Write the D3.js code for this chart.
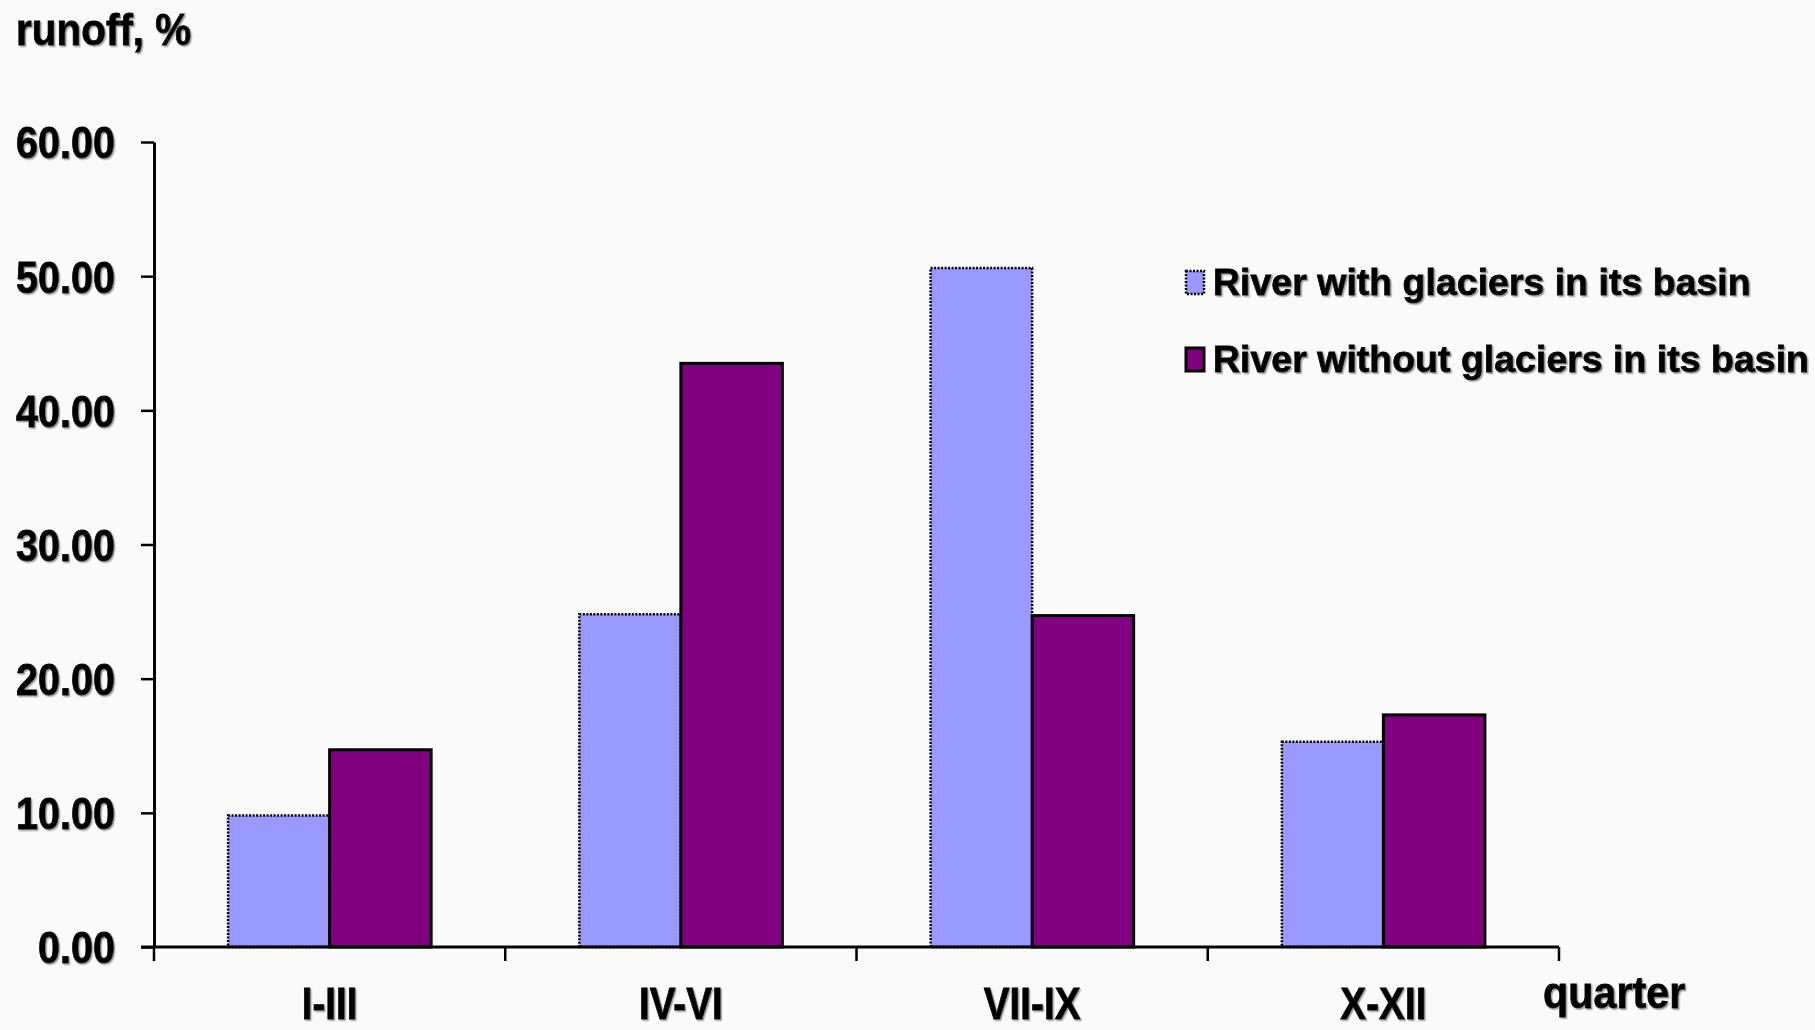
<!DOCTYPE html>
<html>
<head>
<meta charset="utf-8">
<script src="https://cdn.jsdelivr.net/npm/d3@7"></script>
<style>
  html, body { margin: 0; padding: 0; background: #fafafa; }
  svg { display: block; }
  text { font-family: "Liberation Sans", Arial, sans-serif; font-weight: bold; fill: #000; stroke: #000; stroke-width: 0.8px; }
</style>
</head>
<body>
<svg id="chart" width="1815" height="1030"></svg>
<script>
// Quarterly share of annual runoff, %
const quarters = ["I-III", "IV-VI", "VII-IX", "X-XII"];
const seriesNames = ["River with glaciers in its basin", "River without glaciers in its basin"];
const withGlaciers = [9.8, 24.8, 50.6, 15.3];
const withoutGlaciers = [14.7, 43.5, 24.7, 17.3];
const yTicks = [0, 10, 20, 30, 40, 50, 60];
const seriesColors = ["#9999ff", "#800080"];

const svg = d3.select("#chart");
const W = 1815, H = 1030;
const plot = { left: 154, right: 1559, top: 142, bottom: 947 };

// soft grey shadow behind the lettering
const defs = svg.append("defs");
const f = defs.append("filter").attr("id", "txtShadow")
  .attr("x", "-10%").attr("y", "-20%").attr("width", "130%").attr("height", "150%");
f.append("feDropShadow").attr("dx", 1.5).attr("dy", 1.5).attr("stdDeviation", 0.7)
  .attr("flood-color", "#777").attr("flood-opacity", 0.7);

svg.append("rect").attr("width", W).attr("height", H).attr("fill", "#fafafa");

const y = d3.scaleLinear().domain([0, 60]).range([plot.bottom, plot.top]);
const x0 = d3.scaleBand().domain(quarters).range([plot.left, plot.right]).paddingInner(0).paddingOuter(0);
const x1 = d3.scaleBand().domain([0, 1]).range([0, x0.bandwidth()]).paddingInner(0).paddingOuter(0.73);

const rows = quarters.map((q, i) => ({ q, vals: [withGlaciers[i], withoutGlaciers[i]] }));

// bars: the glacier series gets a dotted outline, the other a solid one
const groups = svg.append("g").selectAll("g").data(rows).join("g")
  .attr("transform", d => `translate(${x0(d.q)},0)`);

groups.selectAll("rect.b").data(d => d.vals.map((v, s) => ({ v, s }))).join("rect")
  .attr("class", "b")
  .attr("x", d => x1(d.s))
  .attr("width", x1.bandwidth())
  .attr("y", d => y(d.v))
  .attr("height", d => y(0) - y(d.v))
  .attr("fill", d => seriesColors[d.s])
  .attr("stroke", "#000")
  .attr("stroke-width", d => d.s === 0 ? 2.5 : 3)
  .attr("stroke-dasharray", d => d.s === 0 ? "2,1.5" : null);

// y axis
const yAxis = d3.axisLeft(y).tickValues(yTicks).tickFormat(d3.format(".2f"))
  .tickSize(13).tickPadding(26).tickSizeOuter(0);
const gy = svg.append("g").attr("transform", `translate(${plot.left},0)`).call(yAxis);
gy.select(".domain").attr("stroke", "#000").attr("stroke-width", 3);
gy.selectAll(".tick line").attr("stroke", "#000").attr("stroke-width", 2.5);
gy.selectAll(".tick text")
  .attr("font-size", 44).attr("font-family", null).attr("filter", "url(#txtShadow)")
  .each(function () {
    const t = d3.select(this);
    const xx = +t.attr("x");
    t.attr("x", 0).attr("dy", "0.36em").attr("transform", `translate(${xx},0) scale(0.9,1)`);
  });
gy.attr("font-family", null).attr("font-size", null);

// x axis: line, boundary ticks and centred quarter labels
const gx = svg.append("g").attr("transform", `translate(0,${plot.bottom})`);
gx.append("line").attr("x1", plot.left - 13).attr("x2", plot.right)
  .attr("stroke", "#000").attr("stroke-width", 3);
const bounds = quarters.map(q => x0(q)).concat([plot.right]);
gx.selectAll("line.t").data(bounds).join("line").attr("class", "t")
  .attr("x1", d => d).attr("x2", d => d).attr("y1", 0).attr("y2", 14)
  .attr("stroke", "#000").attr("stroke-width", 2.5);
const xAxis = d3.axisBottom(x0).tickSize(0).tickPadding(0);
const gxl = svg.append("g").attr("transform", `translate(0,${plot.bottom})`).call(xAxis);
gxl.select(".domain").remove();
gxl.attr("font-family", null).attr("font-size", null);
gxl.selectAll(".tick text")
  .attr("font-size", 44).attr("y", 72).attr("dy", 0).attr("filter", "url(#txtShadow)")
  .attr("transform", "scale(0.88,1)");

// axis titles
svg.append("text").attr("transform", "translate(16,45) scale(0.92,1)")
  .attr("font-size", 44).attr("filter", "url(#txtShadow)").text("runoff, %");
svg.append("text").attr("transform", "translate(1543,1008) scale(0.94,1)")
  .attr("font-size", 44).attr("filter", "url(#txtShadow)").text("quarter");

// legend
const legend = svg.append("g").attr("transform", "translate(1186,271)");
const li = legend.selectAll("g").data(seriesNames).join("g")
  .attr("transform", (d, i) => `translate(0,${i * 77})`);
li.append("rect").attr("width", 18).attr("height", 23)
  .attr("fill", (d, i) => seriesColors[i]).attr("stroke", "#000")
  .attr("stroke-width", (d, i) => i === 0 ? 2.5 : 3)
  .attr("stroke-dasharray", (d, i) => i === 0 ? "2,1.5" : null);
li.append("text").attr("x", 27).attr("y", 24).attr("font-size", 37.5)
  .attr("filter", "url(#txtShadow)").text(d => d);
</script>
</body>
</html>
